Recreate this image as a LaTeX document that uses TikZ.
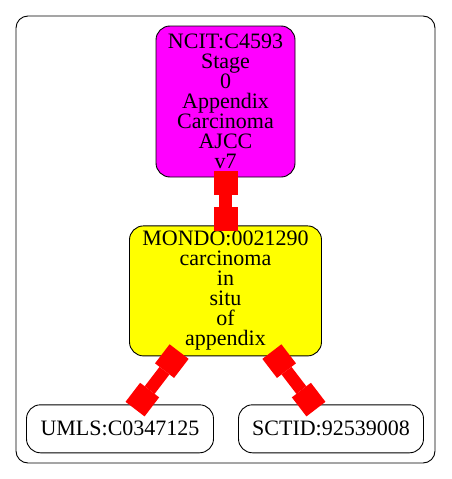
\documentclass[tikz,border=0pt]{standalone}
\usepackage{fontspec}
\setmainfont{Liberation Serif}
\usetikzlibrary{arrows.meta,positioning}
\definecolor{ncitfill}{RGB}{255, 0, 255}
\definecolor{mondofill}{RGB}{255, 255, 0}
\definecolor{xrefred}{RGB}{255, 0, 0}

\begin{document}
\begin{tikzpicture}[
  x=1pt, y=1pt,
  term/.style={
    draw=black,
    rounded corners=14pt,
    line width=0.9pt,
    inner sep=0pt,
    align=center,
    font=\fontsize{22}{20}\selectfont
  },
  xref/.style={
    draw=xrefred,
    line width=12.5pt,
    {Square[length=24pt,width=24pt,line width=0pt]}-{Square[length=24pt,width=24pt,line width=0pt]},
    shorten <=-6pt,
    shorten >=-6pt
  }
]
  \useasboundingbox (0,0) rectangle (451,-479);

  % Cluster frame
  \draw[rounded corners=12pt, line width=0.9pt] (16,-16) rectangle (435,-463);

  % Terms
  \node[term, fill=ncitfill, minimum width=139pt, minimum height=151pt] (ncit) at (225.5,-101.5) {NCIT:C4593\\Stage\\0\\Appendix\\Carcinoma\\AJCC\\v7};
  \node[term, fill=mondofill, minimum width=192pt, minimum height=130pt, below=48pt of ncit] (mondo) {MONDO:0021290\\carcinoma\\in\\situ\\of\\appendix};
  \node[term, minimum width=187pt, minimum height=48pt, below=48pt of mondo, xshift=-105.5pt] (umls) {UMLS:C0347125};
  \node[term, minimum width=185pt, minimum height=48pt, below=48pt of mondo, xshift=105.5pt] (sctid) {SCTID:92539008};

  % Cross references
  \draw[xref] (ncit) -- (mondo);
  \draw[xref] (mondo) -- (umls);
  \draw[xref] (mondo) -- (sctid);

\end{tikzpicture}
\end{document}
